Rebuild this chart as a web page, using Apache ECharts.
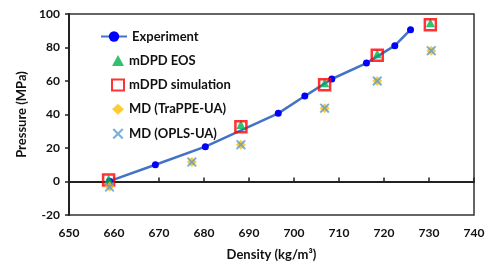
<!DOCTYPE html>
<html><head><meta charset="utf-8">
<script src="https://cdn.jsdelivr.net/npm/echarts@6/dist/echarts.min.js"></script>
<style>html,body{margin:0;padding:0;background:#fff}#c{width:498px;height:278px}</style>
</head><body><div id="c"></div>
<script>
var expX = [659.0, 669.2, 680.3, 696.5, 702.4, 708.4, 716.1, 722.4, 725.9];
var expY = [0.2, 10.0, 20.8, 40.7, 51.0, 61.2, 70.7, 81.1, 90.6];
var eosX = [658.8, 688.2, 706.8, 718.5, 730.3];
var eosY = [1.5, 34.0, 59.0, 76.3, 94.8];
var simX = [658.8, 688.2, 706.8, 718.5, 730.3];
var simY = [0.9, 32.7, 57.8, 75.3, 93.6];
var trappeX = [659.0, 677.3, 688.2, 706.8, 718.5, 730.5];
var trappeY = [-3.0, 11.6, 22.0, 43.8, 60.0, 78.1];
var oplsX = [659.0, 677.3, 688.2, 706.8, 718.5, 730.5];
var oplsY = [-3.3, 11.6, 22.0, 43.8, 60.0, 78.1];
var xTicks = [650, 740, 10];
var yTicks = [-20, 100, 20];

function pairs(a, b) { return a.map(function (v, i) { return [v, b[i]]; }); }
var F = 'Lato, "Open Sans", sans-serif';
var xMark = 'path://M0,1.4L1.4,0L5,3.6L8.6,0L10,1.4L6.4,5L10,8.6L8.6,10L5,6.4L1.4,10L0,8.6L3.6,5Z';
var legendText = {fontFamily: F, fontWeight: 'bold', fontSize: 13, color: '#111'};

var chart = echarts.init(document.getElementById('c'), null, {renderer: 'canvas'});
chart.setOption({
  animation: false,
  backgroundColor: '#fff',
  grid: {left: 69, right: 24, top: 14, bottom: 63, show: true, borderColor: '#333', borderWidth: 1.5, backgroundColor: 'transparent'},
  legend: [
    {orient: 'vertical', left: 95, top: 25, itemWidth: 26, itemHeight: 13,
     textStyle: legendText, data: ['Experiment']},
    {orient: 'vertical', left: 106, top: 49, itemGap: 11.4, itemWidth: 12, itemHeight: 11,
     textStyle: legendText, data: ['mDPD EOS', 'mDPD simulation', 'MD (TraPPE-UA)', 'MD (OPLS-UA)']}
  ],
  xAxis: {
    type: 'value', min: xTicks[0], max: xTicks[1], interval: xTicks[2],
    name: 'Density (kg/m³)', nameLocation: 'middle', nameGap: 33,
    nameTextStyle: {fontFamily: F, fontWeight: 'bold', fontSize: 13, color: '#111'},
    axisLine: {show: true, lineStyle: {color: '#222', width: 2}},
    axisTick: {show: true, inside: true, length: 4, lineStyle: {color: '#222', width: 1.5}},
    axisLabel: {fontFamily: F, fontWeight: 'bold', fontSize: 12, color: '#111', margin: 12},
    splitLine: {show: false}
  },
  yAxis: {
    type: 'value', min: yTicks[0], max: yTicks[1], interval: yTicks[2],
    name: 'Pressure (MPa)', nameLocation: 'middle', nameGap: 40,
    nameTextStyle: {fontFamily: F, fontWeight: 'bold', fontSize: 13, color: '#111'},
    axisLine: {show: true, lineStyle: {color: '#222', width: 2}},
    axisTick: {show: true, inside: false, length: 4, lineStyle: {color: '#222', width: 1.5}},
    axisLabel: {fontFamily: F, fontWeight: 'bold', fontSize: 12, color: '#111', margin: 9},
    splitLine: {show: false}
  },
  series: [
    {name: 'Experiment', type: 'line', data: pairs(expX, expY), symbol: 'circle', symbolSize: 7,
     lineStyle: {color: '#4472C4', width: 2.5}, itemStyle: {color: '#0000FF'}, z: 2},
    {name: 'mDPD EOS', type: 'scatter', data: pairs(eosX, eosY), symbol: 'triangle', symbolSize: 9,
     itemStyle: {color: '#00B050'}, z: 3},
    {name: 'mDPD simulation', type: 'scatter', data: pairs(simX, simY), symbol: 'rect', symbolSize: 11,
     itemStyle: {color: 'transparent', borderColor: '#FF0000', borderWidth: 2.5}, z: 4},
    {name: 'MD (TraPPE-UA)', type: 'scatter', data: pairs(trappeX, trappeY), symbol: 'diamond', symbolSize: 10,
     itemStyle: {color: '#FFC000'}, z: 5},
    {name: 'MD (OPLS-UA)', type: 'scatter', data: pairs(oplsX, oplsY), symbol: xMark, symbolSize: 10,
     itemStyle: {color: '#5B9BD5'}, z: 6}
  ]
});
</script></body></html>
